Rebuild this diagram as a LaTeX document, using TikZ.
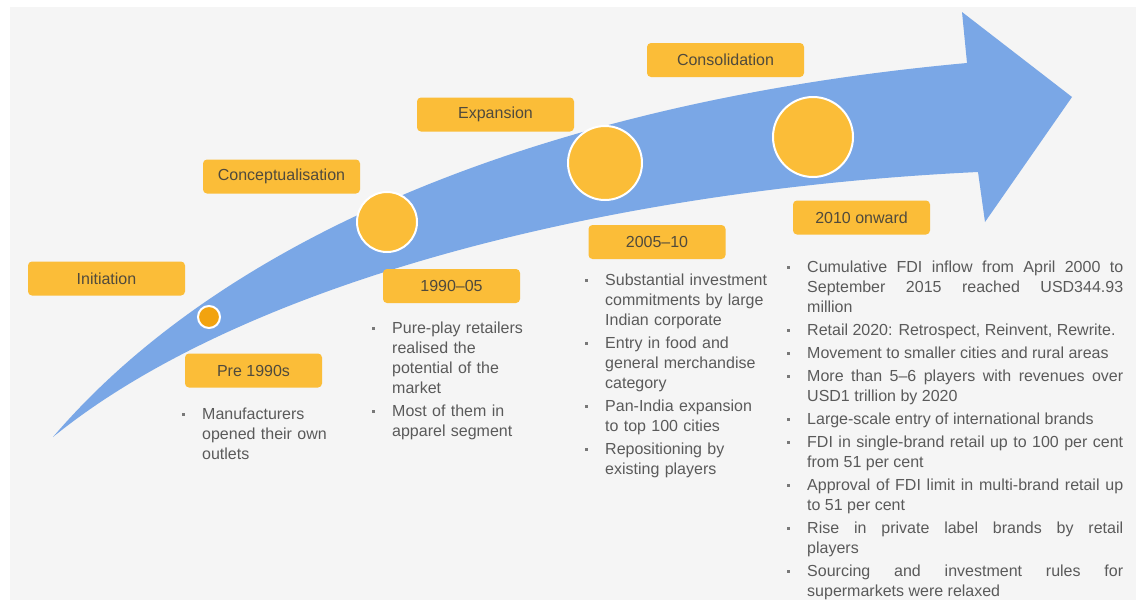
\documentclass[tikz,border=0pt]{standalone}
\usepackage{fontspec}
\setmainfont{Liberation Sans}
\definecolor{bggray}{RGB}{245,245,245}
\definecolor{arrowblue}{RGB}{122,167,230}
\definecolor{boxyellow}{RGB}{251,189,56}
\definecolor{dotorange}{RGB}{242,163,15}
\definecolor{labeltext}{RGB}{80,74,60}
\definecolor{listtext}{RGB}{90,90,90}
\definecolor{bulletgray}{RGB}{120,120,120}
\newcommand{\bit}[1]{\par\noindent\hangindent=21pt\hangafter=1\makebox[21pt][l]{\hspace{1pt}\textcolor{bulletgray}{\raisebox{3.6pt}{\rule{2.6pt}{2.6pt}}}}#1\par}
\tikzset{
  phase/.style={fill=boxyellow, rounded corners=4pt, minimum width=157pt, minimum height=34pt, inner sep=0pt, text=labeltext, font=\fontsize{16}{20}\selectfont},
  period/.style={phase, minimum width=137pt},
  stagedot/.style={circle, fill=boxyellow, draw=white, line width=2pt, inner sep=0pt},
  bullets/.style={anchor=north west, inner sep=0pt, text=listtext, align=left, font=\fontsize{16}{20}\selectfont\setlength{\parskip}{3pt}}
}
\begin{document}
\begin{tikzpicture}[x=1pt,y=-1pt]
\useasboundingbox (0,0) rectangle (1142,600);
\fill[white] (0,0) rectangle (1142,600);
\fill[bggray] (10,7) rectangle (1136,600);
% arrow
\fill[arrowblue] (53,437) .. controls (230,230) and (560,100) .. (967,63) -- (962,12) -- (1072,97) -- (985,222) -- (978,172) .. controls (600,190) and (240,285) .. (53,437) -- cycle;
% circles
\node[stagedot, fill=dotorange, minimum size=22pt] (c1) at (209,317) {};
\node[stagedot, minimum size=60pt] (c2) at (387,222) {};
\node[stagedot, minimum size=74pt] (c3) at (605,163) {};
\node[stagedot, minimum size=80pt] (c4) at (813,137) {};
% phase labels
\node[phase] (initiation) at (106.5,278.5) {Initiation};
\node[phase] (concept) at (281.5,176.5) {Conceptualisation};
\node[phase] (expansion) at (495.5,114.5) {Expansion};
\node[phase] (consol) at (725.5,60) {Consolidation};
% period labels
\node[period] (p1) at (253.5,370.5) {Pre 1990s};
\node[period] (p2) at (451.5,286) {1990--05};
\node[period] (p3) at (657,242) {2005--10};
\node[period] (p4) at (861.5,217.5) {2010 onward};
% lists
\node[bullets, text width=190pt] (l1) at (181,396) {\bit{Manufacturers\newline opened their own\newline outlets}};
\node[bullets, text width=190pt] (l2) at (371,310) {\bit{Pure-play retailers\newline realised the\newline potential of the\newline market}\bit{Most of them in\newline apparel segment}};
\node[bullets, text width=200pt] (l3) at (584,262) {\bit{Substantial investment\newline commitments by large\newline Indian corporate}\bit{Entry in food and\newline general merchandise\newline category}\bit{Pan-India expansion\newline to top 100 cities}\bit{Repositioning by\newline existing players}};
\node[bullets, text width=337pt, align=justify] (l4) at (786,249) {\bit{Cumulative FDI inflow from April 2000 to\linebreak September 2015 reached USD344.93\linebreak million}\bit{Retail 2020: Retrospect, Reinvent, Rewrite.}\bit{Movement to smaller cities and rural areas}\bit{More than 5--6 players with revenues over\linebreak USD1 trillion by 2020}\bit{Large-scale entry of international brands}\bit{FDI in single-brand retail up to 100 per cent\linebreak from 51 per cent}\bit{Approval of FDI limit in multi-brand retail up\linebreak to 51 per cent}\bit{Rise in private label brands by retail\linebreak players}\bit{Sourcing and investment rules for\linebreak supermarkets were relaxed}};
\end{tikzpicture}
\end{document}
